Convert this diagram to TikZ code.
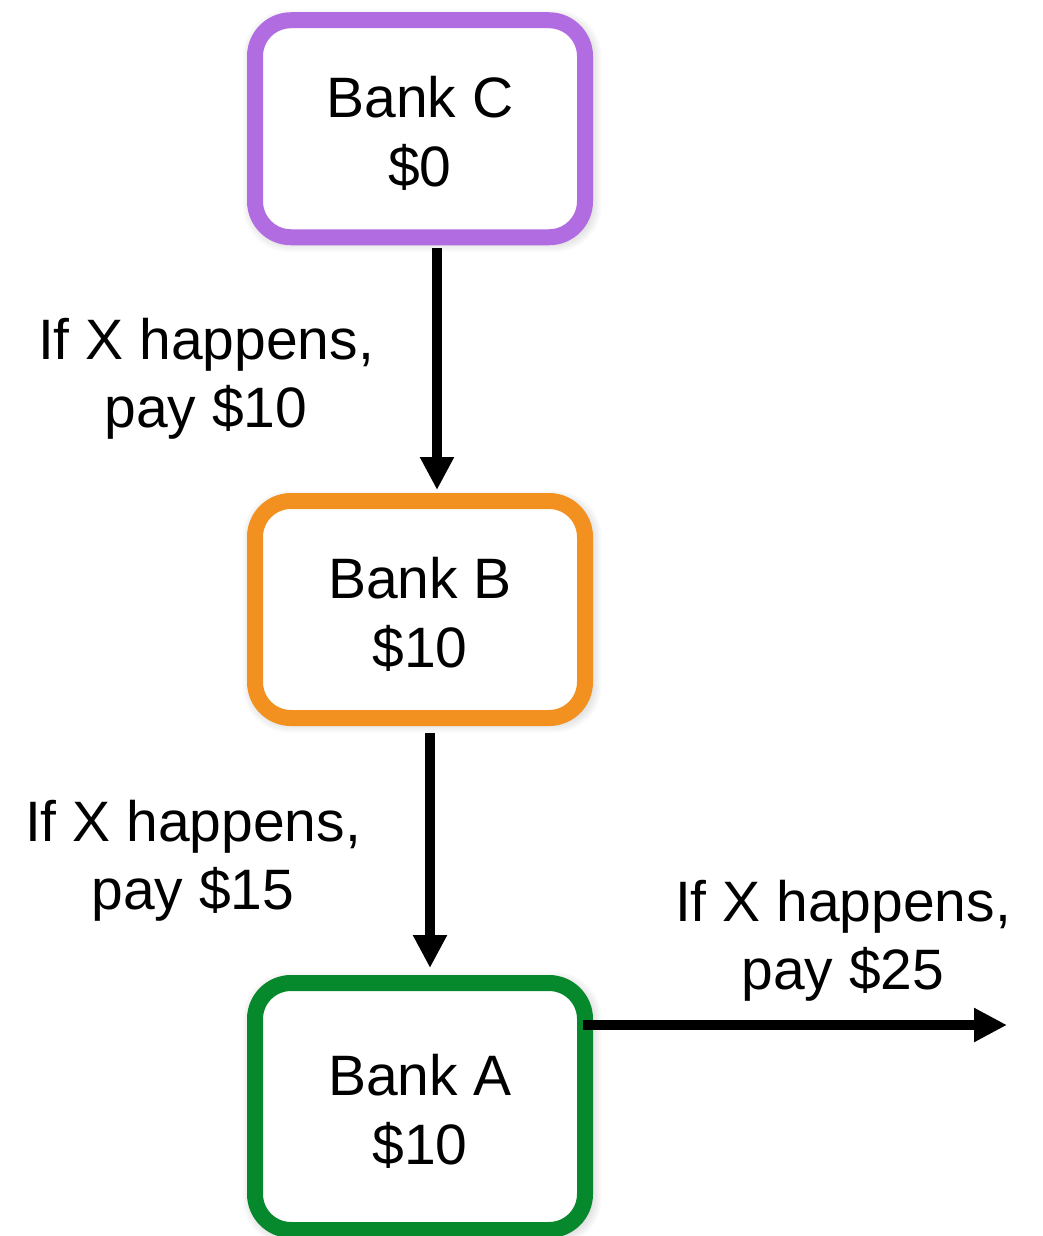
\documentclass[tikz,border=0pt]{standalone}
\usepackage{fontspec}
\setmainfont{Liberation Sans}
\usetikzlibrary{arrows.meta,shadows.blur}
\definecolor{bankpurple}{RGB}{178,108,225}
\definecolor{bankorange}{RGB}{242,145,32}
\definecolor{bankgreen}{RGB}{6,136,44}
% extra height on the first line pushes the two text lines slightly down
\newcommand{\firstlinestrut}{\rule{0pt}{51pt}}
\begin{document}
\begin{tikzpicture}[x=1pt,y=-1pt,
  bank/.style={draw, line width=16pt, rounded corners=36pt, fill=white,
    minimum width=330pt, minimum height=217pt, outer sep=0pt,
    align=center, font=\fontsize{57}{69}\selectfont,
    blur shadow={shadow xshift=2pt, shadow yshift=-2pt,
      shadow blur radius=10pt, shadow opacity=25, shadow scale=1.03,
      shadow blur steps=12}},
  flow/.style={line width=10pt, -{Triangle[width=32pt,length=33pt]}},
  note/.style={align=center, inner sep=0pt, font=\fontsize{57}{68}\selectfont}]
\useasboundingbox (0,0) rectangle (1043,1236);

% banks
\node[bank, draw=bankpurple] (C) at (420,128.75) {\firstlinestrut Bank C\\\$0};
\node[bank, draw=bankorange] (B) at (420,609.5) {\firstlinestrut Bank B\\\$10};
\node[bank, draw=bankgreen, minimum height=247pt] (A) at (420,1106.5) {\firstlinestrut Bank A\\\$10};

% contract labels
\node[note] (l1) at (206,379) {If X happens,\\pay \$10};
\node[note] (l2) at (193,861) {If X happens,\\pay \$15};
\node[note] (l3) at (843,941) {If X happens,\\pay \$25};

% payment flows
\coordinate (out) at (1007,1025);
\draw[flow, shorten <=10.5pt, shorten >=11pt] ([xshift=17pt]C.south) -- ([xshift=17pt]B.north);
\draw[flow, shorten <=15pt, shorten >=15pt] ([xshift=10pt]B.south) -- ([xshift=10pt]A.north);
\draw[flow, shorten <=-2pt] (A.east |- out) -- (out);
\end{tikzpicture}
\end{document}
